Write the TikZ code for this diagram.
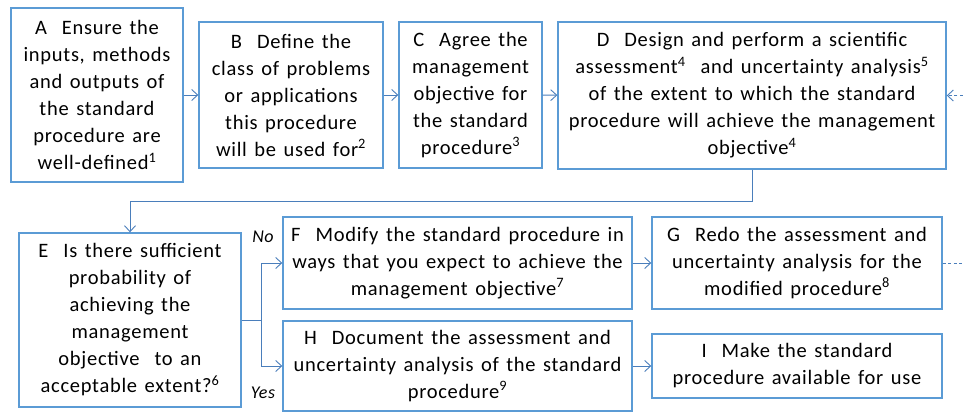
\documentclass[tikz,border=0pt]{standalone}
\usepackage{fontspec}
\setmainfont{Carlito}[LetterSpace=3.5, WordSpace=1.4]
\usetikzlibrary{arrows.meta}

\definecolor{boxblue}{RGB}{91,155,213}
\definecolor{lineblue}{RGB}{74,126,187}

\tikzset{
  box/.style={draw=boxblue, line width=1.4pt, align=center, inner sep=0pt,
    font=\fontsize{20.5}{27}\selectfont},
  link/.style={draw=lineblue, line width=0.9pt, -{Straight Barb[length=6pt,width=11pt]}},
  feedback/.style={link, dash pattern=on 3pt off 2.5pt},
  answer/.style={font=\fontsize{18}{20}\selectfont\itshape},
}

\begin{document}
\begin{tikzpicture}[x=1pt, y=1pt]
  \useasboundingbox (0,0) rectangle (963,-412);

  \node[box, minimum width=172pt, minimum height=174pt] (a) at (97,-95)
    {A\ \ Ensure the\\inputs, methods\\and outputs of\\the standard\\procedure are\\well-defined\textsuperscript{1}};
  \node[box, minimum width=184pt, minimum height=146pt] (b) at (291,-95)
    {B\ \ Define the\\class of problems\\or applications\\this procedure\\will be used for\textsuperscript{2}};
  \node[box, minimum width=143pt, minimum height=146pt] (c) at (470.5,-95)
    {C\ \ Agree the\\management\\objective for\\the standard\\procedure\textsuperscript{3}};
  \node[box, minimum width=388pt, minimum height=147pt] (d) at (752,-95.5)
    {D\ \ Design and perform a scientific\\assessment\textsuperscript{4}\ \ and uncertainty analysis\textsuperscript{5}\\of the extent to which the standard\\procedure will achieve the management\\objective\textsuperscript{4}};

  \node[box, minimum width=222pt, minimum height=174pt] (e) at (130,-320)
    {E\ \ Is there sufficient\\probability of\\achieving the\\management\\objective\ \ to an\\acceptable extent?\textsuperscript{6}};
  \node[box, minimum width=349pt, minimum height=92pt] (f) at (457.5,-263)
    {F\ \ Modify the standard procedure in\\ways that you expect to achieve the\\management objective\textsuperscript{7}};
  \node[box, minimum width=290pt, minimum height=92pt] (g) at (797,-263)
    {G\ \ Redo the assessment and\\uncertainty analysis for the\\modified procedure\textsuperscript{8}};
  \node[box, minimum width=349pt, minimum height=90pt] (h) at (457.5,-366)
    {H\ \ Document the assessment and\\uncertainty analysis of the standard\\procedure\textsuperscript{9}};
  \node[box, minimum width=290pt, minimum height=64pt] (i) at (797,-366)
    {I\ \ Make the standard\\procedure available for use};

  \node[answer] (no) at (263,-237) {No};
  \node[answer] (yes) at (263,-393) {Yes};

  \coordinate (split) at (261,-320);
  \coordinate (turn) at (990,-263);

  \draw[link] (a) -- (b);
  \draw[link] (b) -- (c);
  \draw[link] (c) -- (d);
  \draw[link] (d.south) -- ++(0,-32) -| (e.north);
  \draw[draw=lineblue, line width=0.9pt] (e.east) -- (split);
  \draw[link] (split) |- (f.west);
  \draw[link] (split) |- (h.west);
  \draw[link] (f) -- (g);
  \draw[link] (h) -- (i);
  \draw[feedback] (g.east) -- (turn) |- (d.east);
\end{tikzpicture}
\end{document}
